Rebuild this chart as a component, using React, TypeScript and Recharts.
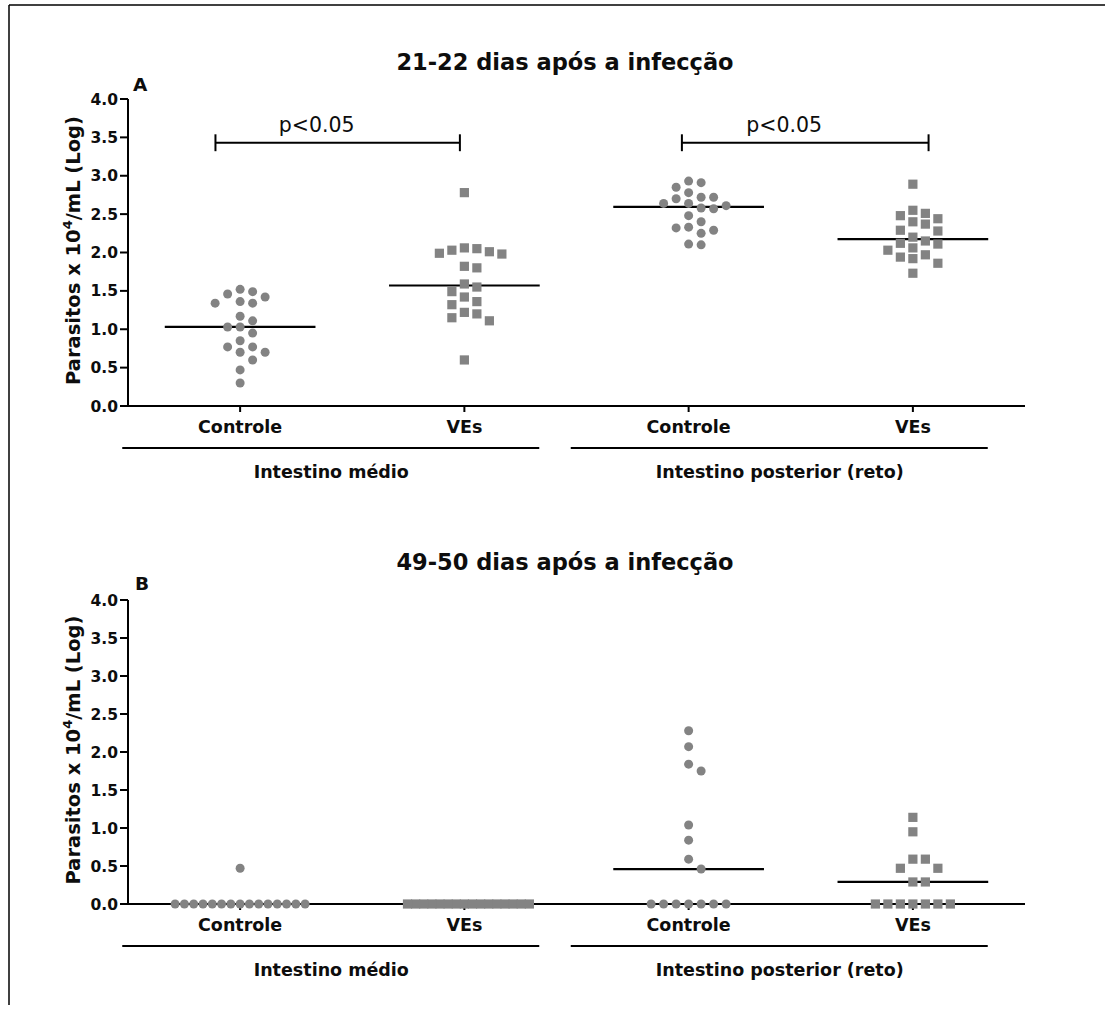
import React from 'react';
import { ScatterChart, Scatter, XAxis, YAxis, ReferenceLine, Label } from 'recharts';

// ---- data ----
const categories = ['Controle', 'VEs', 'Controle', 'VEs'];
const groupLabels = ['Intestino médio', 'Intestino posterior (reto)'];
const groupCenters = [1.5, 3.5];
const yTicks = [0, 0.5, 1, 1.5, 2, 2.5, 3, 3.5, 4];
const titleA = '21-22 dias após a infecção';
const titleB = '49-50 dias após a infecção';

// 21-22 days
const controleMedioA = [1.52, 1.49, 1.46, 1.42, 1.36, 1.34, 1.34, 1.17, 1.11, 1.03, 1.03, 0.95, 0.85, 0.77, 0.77, 0.7, 0.7, 0.6, 0.47, 0.3];
const vesMedioA = [2.78, 2.06, 2.05, 2.03, 2.01, 1.99, 1.98, 1.82, 1.8, 1.59, 1.55, 1.49, 1.42, 1.36, 1.32, 1.22, 1.2, 1.15, 1.11, 0.6];
const controleRetoA = [2.93, 2.91, 2.85, 2.78, 2.72, 2.72, 2.7, 2.64, 2.64, 2.61, 2.58, 2.57, 2.48, 2.4, 2.33, 2.32, 2.29, 2.25, 2.11, 2.1];
const vesRetoA = [2.89, 2.55, 2.51, 2.48, 2.44, 2.4, 2.37, 2.29, 2.28, 2.2, 2.15, 2.12, 2.11, 2.06, 2.03, 1.97, 1.94, 1.92, 1.86, 1.73];

// 49-50 days
const controleMedioB = [0.47, 0, 0, 0, 0, 0, 0, 0, 0, 0, 0, 0, 0, 0, 0, 0];
const vesMedioB = [0, 0, 0, 0, 0, 0, 0, 0, 0, 0, 0, 0, 0, 0, 0, 0];
const controleRetoB = [2.28, 2.07, 1.84, 1.75, 1.04, 0.84, 0.59, 0.46, 0, 0, 0, 0, 0, 0, 0];
const vesRetoB = [1.14, 0.95, 0.59, 0.59, 0.47, 0.47, 0.29, 0.29, 0, 0, 0, 0, 0, 0, 0];

// significance brackets (x in category units, y in log units)
const comparisonsA = [
  { x1: 0.89, x2: 1.98, y: 3.43, text: 'p<0.05' },
  { x1: 2.97, x2: 4.07, y: 3.43, text: 'p<0.05' },
];

// ---- layout ----
const FONT = '"DejaVu Sans", sans-serif';
const INK = '#0d0d0d';
const GREY = '#838383';
const W = 1105;
const CH = 500;
const MARGIN_LEFT = 68;
const Y_AXIS_W = 60;
const MARGIN_RIGHT = 80;
const PLOT_W = W - MARGIN_LEFT - Y_AXIS_W - MARGIN_RIGHT;
const X_DOMAIN: [number, number] = [0.5, 4.5];
const X_UNIT = PLOT_W / (X_DOMAIN[1] - X_DOMAIN[0]);
const TOP = 99;
const CAT_AXIS_H = 30;
const GRP_AXIS_H = 64;

const median = (vals: number[]) => {
  const s = [...vals].sort((a, b) => a - b);
  const m = Math.floor(s.length / 2);
  return s.length % 2 ? s[m] : (s[m - 1] + s[m]) / 2;
};

// column-packing swarm: each point goes to the nearest free column
function swarm(values: number[], center: number, yUnit: number) {
  const STEP = 12.5;
  const GAP = 10;
  const MAX_HALF = 65;
  const order = values.map((_, i) => i).sort((a, b) => values[b] - values[a]);
  const placed: { k: number; py: number; v: number }[] = [];
  for (const i of order) {
    const py = values[i] * yUnit;
    for (let n = 0; ; n++) {
      const k = n === 0 ? 0 : n % 2 === 1 ? (n + 1) / 2 : -n / 2;
      if (!placed.some((p) => p.k === k && Math.abs(p.py - py) < GAP)) {
        placed.push({ k, py, v: values[i] });
        break;
      }
    }
  }
  const maxK = Math.max(...placed.map((p) => Math.abs(p.k)));
  const scale = maxK * STEP > MAX_HALF ? MAX_HALF / (maxK * STEP) : 1;
  return placed.map((p) => ({ x: center + (p.k * STEP * scale) / X_UNIT, y: p.v }));
}

const Dot = (p: any) => <circle cx={p.cx} cy={p.cy} r={4.5} fill={GREY} />;
const Sq = (p: any) => <rect x={p.cx - 4.6} y={p.cy - 4.6} width={9.2} height={9.2} fill={GREY} />;
const NoMark = () => <g />;

const GroupTick = (props: any) => {
  const { x, y, index } = props;
  const cx = x - 21;
  return (
    <g>
      <line x1={cx - 209} x2={cx + 208} y1={y + 12} y2={y + 12} stroke="#000" strokeWidth={2} />
      <text x={cx} y={y + 42} textAnchor="middle" fill={INK} fontFamily={FONT} fontWeight="bold" fontSize={17.5}>
        {groupLabels[index]}
      </text>
    </g>
  );
};

const YTitle = (props: any) => {
  const vb = props.viewBox;
  const cx = vb.x + 12;
  const cy = vb.y + vb.height / 2 - 2;
  return (
    <text
      x={cx}
      y={cy}
      transform={`rotate(-90, ${cx}, ${cy})`}
      textAnchor="middle"
      fill={INK}
      fontFamily={FONT}
      fontWeight="bold"
      fontSize={19.5}
    >
      Parasitos x 10
      <tspan dy={-8} fontSize={13}>4</tspan>
      <tspan dy={8}>/mL (Log)</tspan>
    </text>
  );
};

type Panel = {
  series: number[][];
  height: number;
  bottom: number;
  comparisons: typeof comparisonsA;
};

function PanelChart({ series, height, bottom, comparisons }: Panel) {
  const plotH = height - TOP - bottom - CAT_AXIS_H - GRP_AXIS_H;
  const yUnit = plotH / 4;
  return (
    <ScatterChart width={W} height={height} margin={{ top: TOP, right: MARGIN_RIGHT, left: MARGIN_LEFT, bottom }}>
      <XAxis
        dataKey="x"
        type="number"
        domain={X_DOMAIN}
        ticks={[1, 2, 3, 4]}
        interval={0}
        tickFormatter={(v: number) => categories[v - 1]}
        height={CAT_AXIS_H}
        tickSize={6}
        tickMargin={9}
        axisLine={{ stroke: '#000', strokeWidth: 2 }}
        tickLine={{ stroke: '#000', strokeWidth: 2 }}
        tick={{ fill: INK, fontSize: 17.5, fontWeight: 'bold', fontFamily: FONT }}
      />
      <XAxis
        xAxisId="grp"
        dataKey="x"
        type="number"
        domain={X_DOMAIN}
        ticks={groupCenters}
        interval={0}
        height={GRP_AXIS_H}
        axisLine={false}
        tickLine={false}
        tickSize={0}
        tickMargin={0}
        tick={GroupTick}
      />
      <YAxis
        dataKey="y"
        type="number"
        domain={[0, 4]}
        ticks={yTicks}
        interval={0}
        width={Y_AXIS_W}
        tickSize={8}
        tickMargin={2}
        tickFormatter={(v: number) => v.toFixed(1)}
        axisLine={{ stroke: '#000', strokeWidth: 2 }}
        tickLine={{ stroke: '#000', strokeWidth: 2 }}
        tick={{ fill: INK, fontSize: 15.5, fontWeight: 'bold', fontFamily: FONT }}
      >
        <Label content={YTitle} />
      </YAxis>
      <Scatter
        xAxisId="grp"
        data={groupCenters.map((x) => ({ x, y: 0 }))}
        shape={NoMark}
        isAnimationActive={false}
      />
      {series.map((vals, i) => (
        <Scatter
          key={`s${i}`}
          data={swarm(vals, i + 1, yUnit)}
          shape={i % 2 === 0 ? Dot : Sq}
          isAnimationActive={false}
        />
      ))}
      {series.map((vals, i) => {
        const m = median(vals);
        return (
          <ReferenceLine
            key={`m${i}`}
            segment={[{ x: i + 1 - 0.336, y: m }, { x: i + 1 + 0.336, y: m }]}
            stroke="#000"
            strokeWidth={2.2}
            ifOverflow="visible"
          />
        );
      })}
      {comparisons.map((c, i) => [
        <ReferenceLine
          key={`c${i}`}
          segment={[{ x: c.x1, y: c.y }, { x: c.x2, y: c.y }]}
          stroke="#000"
          strokeWidth={2}
          ifOverflow="visible"
        >
          <Label
            content={(lp: any) => {
              const vb = lp.viewBox;
              return (
                <text
                  x={vb.x + vb.width / 2 - 21}
                  y={vb.y - 11}
                  textAnchor="middle"
                  fill={INK}
                  fontFamily={FONT}
                  fontSize={20.5}
                >
                  {c.text}
                </text>
              );
            }}
          />
        </ReferenceLine>,
        <ReferenceLine
          key={`cl${i}`}
          segment={[{ x: c.x1, y: c.y - 0.11 }, { x: c.x1, y: c.y + 0.11 }]}
          stroke="#000"
          strokeWidth={2}
          ifOverflow="visible"
        />,
        <ReferenceLine
          key={`cr${i}`}
          segment={[{ x: c.x2, y: c.y - 0.11 }, { x: c.x2, y: c.y + 0.11 }]}
          stroke="#000"
          strokeWidth={2}
          ifOverflow="visible"
        />,
      ])}
    </ScatterChart>
  );
}

export default function App() {
  return (
    <div style={{ position: 'absolute', left: 0, top: 0, width: W, height: 1011, background: '#fff' }}>
      <svg width={W} height={1011} style={{ position: 'absolute', left: 0, top: 0 }}>
        <line x1={9} y1={5} x2={W} y2={5} stroke="#000" strokeWidth={1.5} />
        <line x1={9} y1={5} x2={9} y2={1005} stroke="#000" strokeWidth={1.5} />
        <text x={565} y={70} textAnchor="middle" fill={INK} fontFamily={FONT} fontWeight="bold" fontSize={22.5}>
          {titleA}
        </text>
        <text x={565} y={570} textAnchor="middle" fill={INK} fontFamily={FONT} fontWeight="bold" fontSize={22.5}>
          {titleB}
        </text>
        <text x={133} y={91} fill={INK} fontFamily={FONT} fontWeight="bold" fontSize={18.5}>A</text>
        <text x={135} y={590} fill={INK} fontFamily={FONT} fontWeight="bold" fontSize={18.5}>B</text>
      </svg>
      <div style={{ position: 'absolute', left: 0, top: 0 }}>
        <PanelChart
          series={[controleMedioA, vesMedioA, controleRetoA, vesRetoA]}
          height={CH}
          bottom={0}
          comparisons={comparisonsA}
        />
      </div>
      <div style={{ position: 'absolute', left: 0, top: 501 }}>
        <PanelChart
          series={[controleMedioB, vesMedioB, controleRetoB, vesRetoB]}
          height={CH}
          bottom={3}
          comparisons={[]}
        />
      </div>
    </div>
  );
}
